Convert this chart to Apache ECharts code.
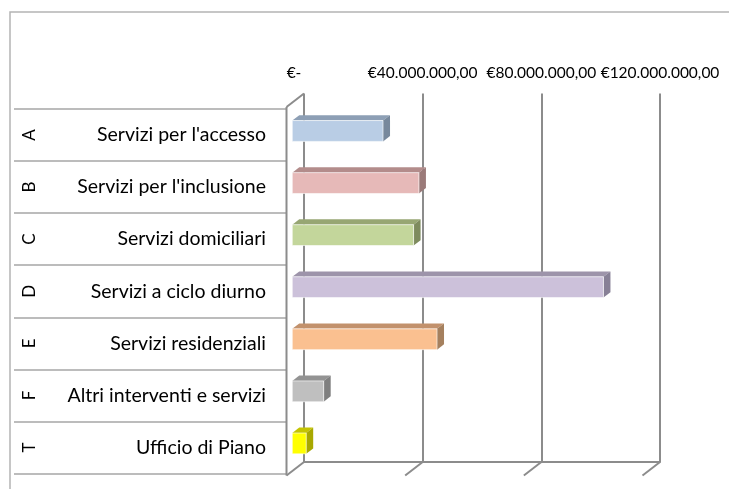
<!DOCTYPE html>
<html>
<head>
<meta charset="utf-8">
<script src="https://cdn.jsdelivr.net/npm/echarts@6/dist/echarts.min.js"></script>
<style>
  html, body { margin: 0; padding: 0; background: #fff; }
  #chart { width: 729px; height: 489px; }
</style>
</head>
<body>
<div id="chart"></div>
<script>
const letters = ['A', 'B', 'C', 'D', 'E', 'F', 'T']
const categories = [
  'Servizi per l\'accesso',
  'Servizi per l\'inclusione',
  'Servizi domiciliari',
  'Servizi a ciclo diurno',
  'Servizi residenziali',
  'Altri interventi e servizi',
  'Ufficio di Piano'
]
const values = [30600000, 42700000, 40900000, 104900000, 48800000, 10600000, 4700000]
const xTicks = [0, 40000000, 80000000, 120000000]

// face colours: front, top, side
const faces = [
  ['#b9cde5', '#8d9fb5', '#77889c'],
  ['#e6b9b8', '#b38c8b', '#9b7a79'],
  ['#c3d69b', '#97a673', '#7e8b5e'],
  ['#ccc1da', '#9d94aa', '#878096'],
  ['#fac090', '#c2916c', '#a5805e'],
  ['#bfbfbf', '#939393', '#7f7f7f'],
  ['#ffff00', '#c4c400', '#a8a800']
]

// oblique depth of the plot box (back wall -> front edge)
const DX = -17.5
const DY = 13.5
const FONT = 'Lato, "Open Sans", sans-serif'

function euro (v) {
  if (v === 0) return '{z|€-}'
  const s = String(Math.round(v)).replace(/\B(?=(\d{3})+(?!\d))/g, '.')
  return '€' + s + ',00'
}

const chart = echarts.init(document.getElementById('chart'))
chart.setOption({
  animation: false,
  graphic: [
    {
      type: 'polyline',
      shape: { points: [[10, 495], [10, 12], [735, 12]] },
      style: { stroke: '#b4b4b4', lineWidth: 1.5, fill: null },
      silent: true
    }
  ],
  grid: [
    // front plane: category rows + bars
    { left: 287, top: 109, width: 356, height: 364.5 },
    // back wall: gridlines + top labels
    { left: 304, top: 93.5, width: 356, height: 368.5 }
  ],
  xAxis: [
    {
      gridIndex: 0,
      type: 'value',
      min: 0,
      max: 120000000,
      show: false
    },
    {
      gridIndex: 1,
      type: 'value',
      position: 'top',
      min: 0,
      max: 120000000,
      interval: 40000000,
      axisLine: { show: true, lineStyle: { color: '#8c8c8c', width: 2 } },
      axisTick: { show: true, length: 4, lineStyle: { color: '#8c8c8c', width: 2 } },
      splitLine: { show: true, lineStyle: { color: '#8c8c8c', width: 2 } },
      axisLabel: {
        margin: 13,
        color: '#000',
        fontFamily: FONT,
        fontSize: 15.5,
        showMinLabel: true,
        showMaxLabel: true,
        hideOverlap: false,
        formatter: euro,
        rich: {
          z: { fontFamily: FONT, fontSize: 15.5, color: '#000', padding: [0, 20, 0, 0] }
        }
      }
    }
  ],
  yAxis: [
    {
      gridIndex: 0,
      type: 'category',
      inverse: true,
      data: categories,
      axisLine: { show: false },
      axisTick: { show: true, length: 273, lineStyle: { color: '#a6a6a6', width: 1.5 } },
      axisLabel: {
        interval: 0,
        margin: 21,
        color: '#000',
        fontFamily: FONT,
        fontSize: 19.5
      }
    },
    {
      gridIndex: 0,
      type: 'category',
      inverse: true,
      data: letters,
      position: 'left',
      offset: 241,
      axisLine: { show: false },
      axisTick: { show: false },
      axisLabel: {
        interval: 0,
        rotate: 90,
        margin: 8,
        color: '#000',
        fontFamily: FONT,
        fontSize: 17
      }
    },
    {
      gridIndex: 1,
      type: 'value',
      min: 0,
      max: 1,
      show: false
    }
  ],
  series: [
    {
      // floor / side wall edges of the 3D box
      type: 'custom',
      xAxisIndex: 1,
      yAxisIndex: 2,
      z: 1,
      silent: true,
      data: xTicks.map(v => [v]),
      renderItem: function (params, api) {
        const v = api.value(0)
        const b = api.coord([v, 0])
        const lineStyle = { stroke: '#8c8c8c', lineWidth: 2 }
        const children = [
          { type: 'line', shape: { x1: b[0], y1: b[1], x2: b[0] + DX, y2: b[1] + DY }, style: lineStyle }
        ]
        if (v === 0) {
          const t = api.coord([0, 1])
          children.push(
            { type: 'line', shape: { x1: t[0], y1: t[1], x2: t[0] + DX, y2: t[1] + DY }, style: lineStyle },
            { type: 'line', shape: { x1: t[0] + DX, y1: t[1] + DY, x2: b[0] + DX, y2: b[1] + DY }, style: lineStyle }
          )
        }
        return { type: 'group', children: children }
      }
    },
    {
      type: 'custom',
      xAxisIndex: 0,
      yAxisIndex: 0,
      z: 3,
      data: values.map((v, i) => [v, i]),
      renderItem: function (params, api) {
        const v = api.value(0)
        const i = api.value(1)
        const p0 = api.coord([0, i])
        const p1 = api.coord([v, i])
        const band = api.size([0, 1])[1]
        const h = band * 0.4
        // bar sits between 30% and 70% of the box depth
        const fx = -DX * 0.3
        const fy = -DY * 0.3
        const bx = -DX * 0.4
        const by = -DY * 0.4
        const x0 = p0[0] + fx
        const x1 = p1[0] + fx
        const top = p0[1] + fy - h / 2
        const bottom = top + h
        const c = faces[i % faces.length]
        return {
          type: 'group',
          children: [
            {
              type: 'polygon',
              shape: { points: [[x0, top], [x1, top], [x1 + bx, top + by], [x0 + bx, top + by]] },
              style: { fill: c[1] }
            },
            {
              type: 'polygon',
              shape: { points: [[x1, top], [x1 + bx, top + by], [x1 + bx, bottom + by], [x1, bottom]] },
              style: { fill: c[2] }
            },
            {
              type: 'rect',
              shape: { x: x0, y: top, width: x1 - x0, height: h },
              style: { fill: c[0], stroke: 'rgba(255,255,255,0.6)', lineWidth: 1 }
            }
          ]
        }
      }
    }
  ]
})
</script>
</body>
</html>
